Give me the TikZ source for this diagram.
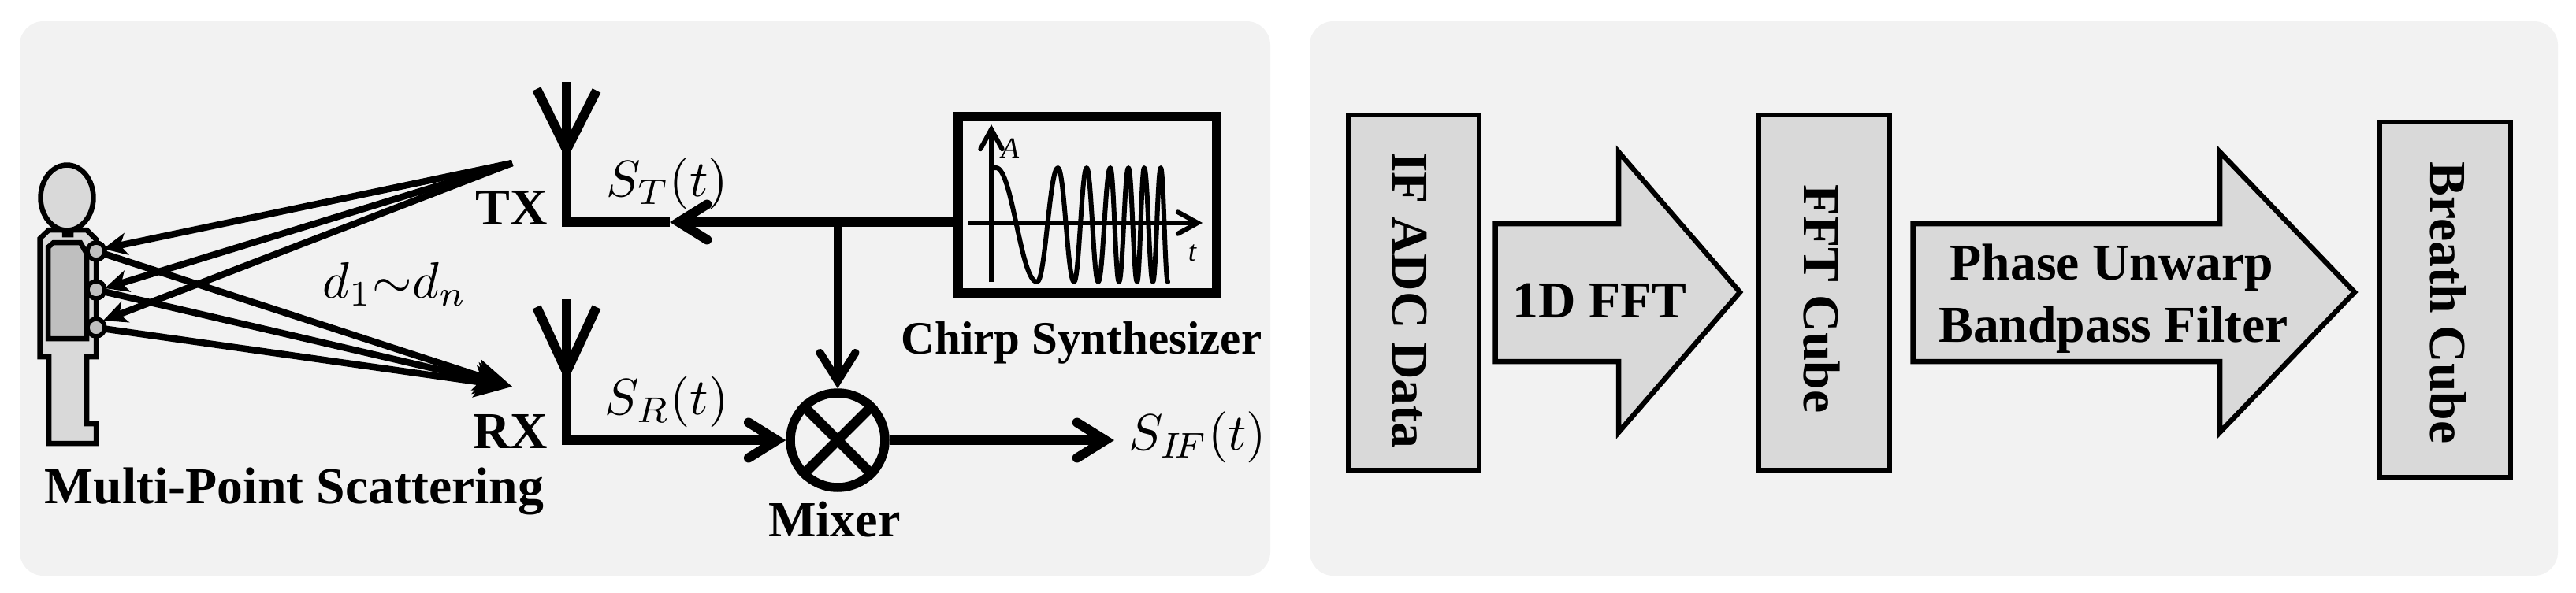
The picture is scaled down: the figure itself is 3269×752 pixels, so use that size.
\documentclass[tikz,border=0pt]{standalone}
\usepackage{fontspec}
\setmainfont{Liberation Serif}
\usetikzlibrary{arrows.meta,shapes.geometric}
\definecolor{panel}{HTML}{F2F2F2}
\definecolor{boxfill}{HTML}{D9D9D9}
\definecolor{torso}{HTML}{BFBFBF}
\newcommand{\bigbold}{\bfseries\fontsize{37.4}{40}\selectfont}
\newcommand{\midbold}{\bfseries\fontsize{33.6}{36}\selectfont}
\tikzset{
  panelbox/.style={fill=panel,draw=none,rounded corners=0.6cm},
  wire/.style={line width=.24cm,line join=miter},
  thinwire/.style={line width=.2cm},
  openarrow/.style={-{Straight Barb[length=.72cm,width=.9cm,line cap=round]}},
  scatterin/.style={line width=.17cm,-{Stealth[length=.6cm,width=.56cm,inset=.16cm]}},
  scatterout/.style={line width=.17cm,-{Stealth[length=.95cm,width=.8cm,inset=.2cm]}},
  plotaxis/.style={line width=.12cm,-{Straight Barb[length=.5cm,width=.55cm,line cap=round]}},
  body/.style={draw,line width=.13cm,fill=boxfill,line join=miter},
  point/.style={circle,draw,line width=.11cm,fill=torso,minimum size=.44cm,inner sep=0pt},
  labeltext/.style={inner sep=0pt,anchor=base,font=\bigbold},
  mathlabel/.style={inner sep=0pt,scale=3.7},
  stack/.style={draw,line width=.12cm,fill=boxfill,minimum width=3.33cm,minimum height=9.02cm,inner sep=0pt,outer sep=0pt},
  vlabel/.style={inner sep=0pt,rotate=-90,anchor=base west,font=\bigbold},
  blockarrow/.style={draw,line width=.13cm,fill=boxfill,line join=miter,miter limit=20}
}
\begin{document}
\begin{tikzpicture}[x=.02cm,y=-.02cm]
\useasboundingbox (0,0) rectangle (3269,752);
% panels
\fill[panelbox] (25,27) rectangle (1612,731);
\fill[panelbox] (1662,27) rectangle (3246,731);

% person
\draw[body] (82,292) -- (82,280) -- (90,280) -- (90,292) -- cycle;
\draw[body] (50.5,303) -- (62,292) -- (82,292) -- (82,298) -- (90,298) -- (90,292) -- (110,292) -- (122,304)
  -- (122,453) -- (110,453) -- (110,538) -- (122,538) -- (122,563) -- (62,563) -- (62,453) -- (50.5,453) -- cycle;
\node[ellipse,draw,line width=.13cm,fill=boxfill,minimum width=1.34cm,minimum height=1.66cm,inner sep=0pt] (head) at (85,251) {};
\draw[body,fill=torso] (61,430) -- (61,314) -- (68,308) -- (102,308) -- (110,322) -- (110,430) -- cycle;

% scattering
\coordinate (txo) at (650,207);
\coordinate (rxo) at (650,491);
\coordinate (c1) at (122,319);
\coordinate (c2) at (122,368);
\coordinate (c3) at (122,416);
\coordinate (t1) at (131,316);
\coordinate (t2) at (133,366);
\coordinate (t3) at (131,407);
\draw[scatterin] (txo) -- (t1);
\draw[scatterin] (txo) -- (t2);
\draw[scatterin] (txo) -- (t3);
\draw[scatterout] (c1) -- (rxo);
\draw[scatterout] (c2) -- (rxo);
\draw[scatterout] (c3) -- (rxo);
\node[point] (p1) at (c1) {};
\node[point] (p2) at (c2) {};
\node[point] (p3) at (c3) {};

\node[mathlabel] (dist) at (501,361) {$d_1{\sim}d_n$};
\node[labeltext] (scatlabel) at (373.5,639) {Multi-Point Scattering};
\node[labeltext] (txlabel) at (649.5,285) {TX};
\node[labeltext] (rxlabel) at (647.5,569) {RX};

% mixer and synthesizer
\node[circle,draw,line width=.23cm,minimum size=2.4cm,inner sep=0pt] (mixer) at (1063,559) {};
\draw[line width=.25cm] (mixer.45) -- (mixer.225);
\draw[line width=.25cm] (mixer.135) -- (mixer.315);
\node[labeltext,font=\bfseries\fontsize{36.5}{40}\selectfont] (mixlabel) at (1059,681) {Mixer};

\node[draw,line width=.25cm,minimum width=6.56cm,minimum height=4.48cm,inner sep=0pt] (synth) at (1380,260) {};
\node[labeltext,font=\midbold] (synlabel) at (1372.5,449) {Chirp Synthesizer};

% antennas and wires
\coordinate (txtop) at (719,104);
\coordinate (txjoin) at (719,190);
\coordinate (txl) at (681,113);
\coordinate (txr) at (757,115);
\coordinate (txc) at (719,282);
\coordinate (jun) at (1063,282);
\coordinate (txtip) at (850,282);
\coordinate (rxtop) at (719,380);
\coordinate (rxjoin) at (719,472);
\coordinate (rxl) at (681,390);
\coordinate (rxr) at (757,390);
\coordinate (rxc) at (719,559);
\coordinate (ifend) at (1414,559);
\draw[wire] (txtop) -- (txc);
\draw[wire] (txl) -- (txjoin) -- (txr);
\draw[wire] (rxtop) -- (rxc);
\draw[wire] (rxl) -- (rxjoin) -- (rxr);
\draw[wire] (synth.west |- jun) -- (jun);
\draw[wire] (txc) ++(-6,0) -- (txtip);
\draw[wire,openarrow] (jun) -- (txtip);
\draw[thinwire,openarrow] (jun) -- (mixer.north);
\draw[wire,openarrow] (rxc) ++(-6,0) -- (mixer.west);
\draw[wire,openarrow] (mixer.east) -- (ifend);

\node[mathlabel] (st) at (846.5,233) {$S_T(t)$};
\node[mathlabel] (sr) at (846,510) {$S_R(t)$};
\node[mathlabel,anchor=west] (sif) at (1431,555) {$S_{I\!F}(t)$};

% chirp plot
\coordinate (yo) at (1258,358);
\coordinate (yt) at (1258,158);
\coordinate (xo) at (1229,283);
\coordinate (xt) at (1526,283);
\draw[plotaxis] (yo) -- (yt);
\draw[plotaxis] (xo) -- (xt);
\node[inner sep=0pt,font=\itshape\fontsize{21}{24}\selectfont] (alabel) at (1282,188) {A};
\node[inner sep=0pt,font=\itshape\fontsize{21}{24}\selectfont] (tlabel) at (1513,321) {t};
\draw[line width=.12cm,line cap=round,line join=round] (1258,213) -- (1264,213)
  \foreach \xa/\xb/\ya/\yb in {1264/1316/213/358,1316/1342.5/358/213,1342.5/1363/213/358,1363/1379/358/213,1379/1393.6/213/358,1393.6/1409/358/213,1409/1420/213/358,1420/1432/358/213,1432/1443/213/358,1443/1452/358/213,1452/1463/213/358,1463/1473/358/213,1473/1482/213/358}
  { .. controls ({\xa+0.4*(\xb-\xa)},\ya) and ({\xb-0.4*(\xb-\xa)},\yb) .. (\xb,\yb) };

% processing chain
\node[stack] (ifbox) at (1794,371.5) {};
\node[stack] (fftbox) at (2315,371.5) {};
\node[stack] (brbox) at (3103,380.5) {};
\node[vlabel] (iflabel) at (1767,193) {IF ADC Data};
\node[vlabel] (fftlabel) at (2289,234) {FFT Cube};
\node[vlabel] (brlabel) at (3084,205) {Breath Cube};

\draw[blockarrow] (1897.5,284) -- (2054,284) -- (2054,193) -- (2208,371) -- (2054,549) -- (2054,459) -- (1897.5,459) -- cycle;
\draw[blockarrow] (2427.5,284) -- (2817,284) -- (2817,193) -- (2988,371) -- (2817,549) -- (2817,459) -- (2427.5,459) -- cycle;
\node[labeltext] (fftop) at (2030,403) {1D FFT};
\node[labeltext] (pulabel) at (2680,355) {Phase Unwarp};
\node[labeltext] (bplabel) at (2682,434) {Bandpass Filter};
\end{tikzpicture}
\end{document}
